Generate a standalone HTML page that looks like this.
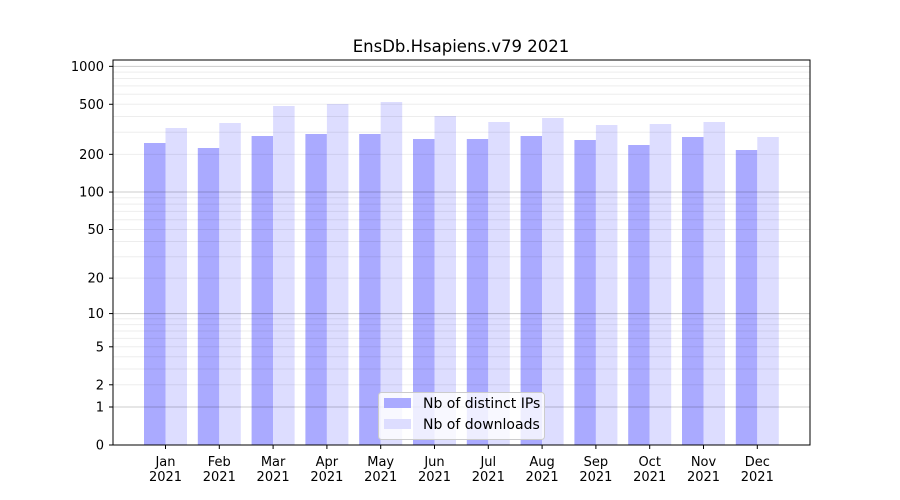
<!DOCTYPE html>
<html><head><meta charset="utf-8"><style>body{margin:0;background:#fff}svg{display:block;font-family:"DejaVu Sans","Liberation Sans",sans-serif}</style></head>
<body>
<svg id="s" width="900" height="500" xmlns="http://www.w3.org/2000/svg">
<rect width="900" height="500" fill="#fff"/>
<g id="bars"></g>
<g id="grid"></g>
<rect x="113" y="60" width="697" height="385" fill="none" stroke="#000" stroke-width="1"/>
<g id="ticks" font-size="13" fill="#000"></g>
<text x="461" y="52" font-size="16.5" text-anchor="middle">EnsDb.Hsapiens.v79 2021</text>
<g>
<rect x="378.5" y="392.5" width="166" height="47" rx="3" fill="#fff" fill-opacity="0.8" stroke="#ccc"/>
<rect x="384" y="398" width="27" height="10" fill="#aaaaff"/>
<rect x="384" y="419" width="27" height="10" fill="#ddddff"/>
<text x="423" y="408" font-size="14">Nb of distinct IPs</text>
<text x="423" y="429" font-size="14">Nb of downloads</text>
</g>
</svg>
<script>
var NS="http://www.w3.org/2000/svg",s=document.getElementById('s');
function Y(v){return 445-126.2*Math.log10(v+1);}
function el(p,t,a,txt){var e=document.createElementNS(NS,t);for(var k in a)e.setAttribute(k,a[k]);if(txt!==undefined)e.textContent=txt;document.getElementById(p).appendChild(e);return e;}
var dark=[143,148,136,134,134,139,139,136,140,145,137,150];
var light=[128,123,106,104,102,116,122,118,125,124,122,137];
var m=["Jan","Feb","Mar","Apr","May","Jun","Jul","Aug","Sep","Oct","Nov","Dec"];
for(var i=0;i<12;i++){var c=165.5+53.8*i;
el('bars','rect',{x:c-21.5,y:dark[i],width:21.5,height:445-dark[i],fill:'#aaaaff'});
el('bars','rect',{x:c,y:light[i],width:21.5,height:445-light[i],fill:'#ddddff'});
el('ticks','line',{x1:c,x2:c,y1:445,y2:449,stroke:'#000'});
el('ticks','text',{x:c,y:466,'text-anchor':'middle'},m[i]);
el('ticks','text',{x:c,y:481,'text-anchor':'middle'},'2021');}
[1,10,100,1000].forEach(function(d){el('grid','line',{x1:113,x2:810,y1:Y(d),y2:Y(d),stroke:'#000','stroke-opacity':0.2,'stroke-width':1});
if(d<1000)for(var k=2;k<10;k++){var y=Y(k*d);el('grid','line',{x1:113,x2:810,y1:y,y2:y,stroke:'#000','stroke-opacity':0.07});}});
[0,1,2,5,10,20,50,100,200,500,1000].forEach(function(v){var y=Y(v);
el('ticks','line',{x1:109,x2:113,y1:y,y2:y,stroke:'#000'});
el('ticks','text',{x:104,y:y+4.5,'text-anchor':'end'},String(v));});
</script>
</body></html>
